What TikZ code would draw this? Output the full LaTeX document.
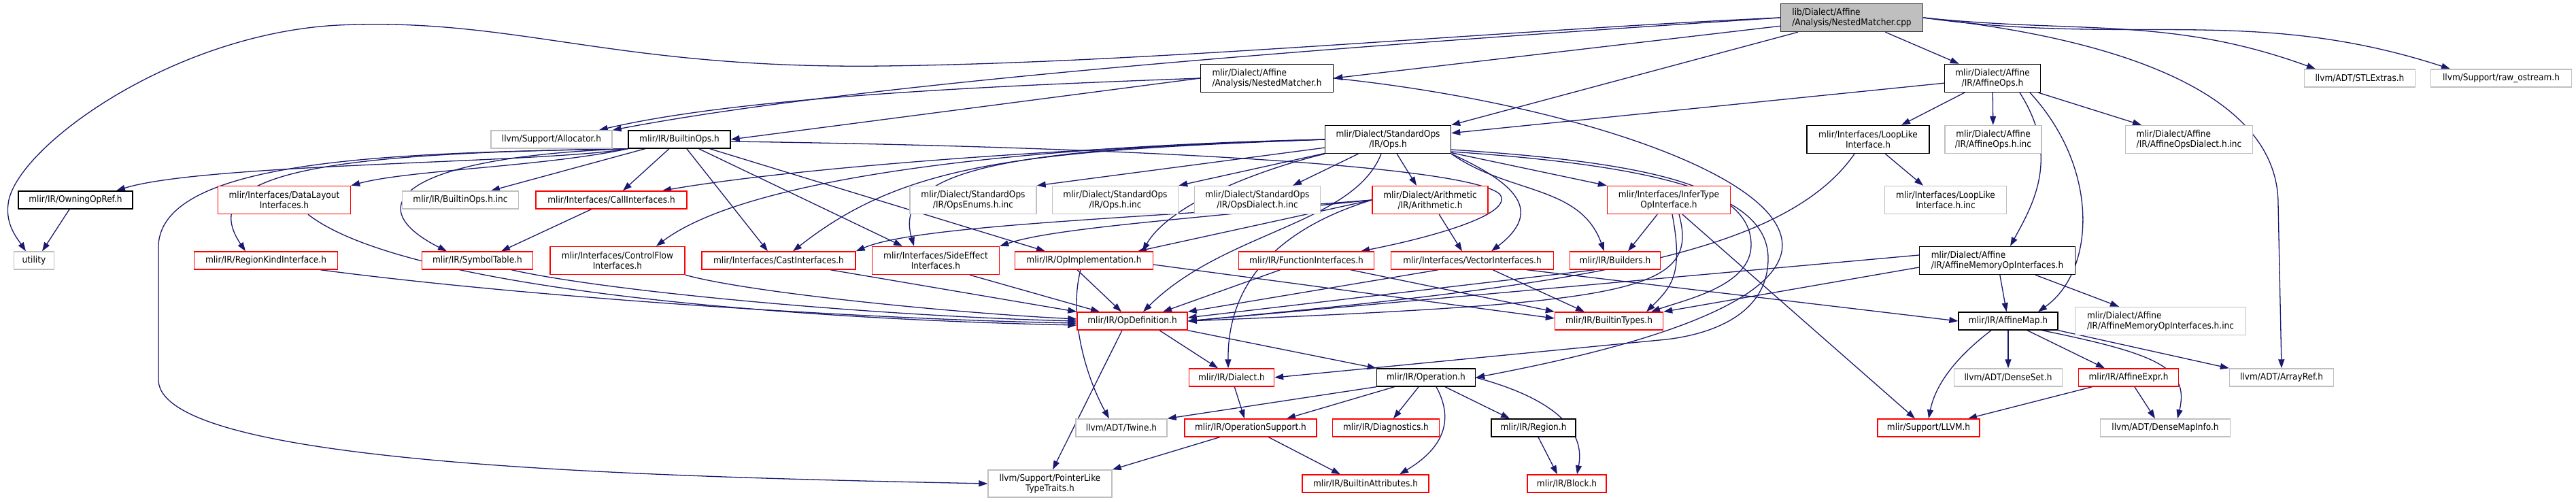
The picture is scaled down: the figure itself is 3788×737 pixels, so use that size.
\documentclass[tikz,border=0pt]{standalone}
\usepackage{fontspec}
\setmainfont{DejaVu Sans Condensed}
\usepackage{xcolor}
\usepackage{tikz}
\usetikzlibrary{arrows.meta}

\definecolor{edgeblue}{HTML}{191970}
\definecolor{boxgray}{HTML}{BFBFBF}
\definecolor{rootfill}{HTML}{BFBFBF}

\pgfdeclarelayer{edges}
\pgfsetlayers{edges,main}

\begin{document}
\begin{tikzpicture}[x=1pt, y=-1pt,
    dep/.style={draw=edgeblue, line width=1.3pt, -{Triangle[length=13pt,width=9pt]}},
    box/.style={rectangle, draw, line width=1.4pt, fill=white, inner sep=0pt,
        minimum height=26pt, align=center, font=\fontsize{13.5}{15}\selectfont},
    blackbox/.style={box, draw=black},
    graybox/.style={box, draw=boxgray},
    redbox/.style={box, draw=red},
    rootbox/.style={box, draw=black!80, fill=rootfill},
    tall/.style={minimum height=41pt}]
    \useasboundingbox (0,0) rectangle (3788,737);

    % Source file
    \node[rootbox, tall, minimum width=209pt, align=left] (root) at (2723,26) {lib/Dialect/Affine\\/Analysis/NestedMatcher.cpp};

    % First level
    \node[blackbox, tall, minimum width=195pt, align=left] (nmh) at (1863,115) {mlir/Dialect/Affine\\/Analysis/NestedMatcher.h};
    \node[blackbox, tall, minimum width=141pt] (affops) at (2930,115) {mlir/Dialect/Affine\\/IR/AffineOps.h};
    \node[graybox, minimum width=163pt] (stlextras) at (3470,115) {llvm/ADT/STLExtras.h};
    \node[graybox, minimum width=207pt] (rawostream) at (3678,115) {llvm/Support/raw\_ostream.h};

    % Second level
    \node[graybox, minimum width=178pt] (allocator) at (811,205) {llvm/Support/Allocator.h};
    \node[blackbox, minimum width=150pt] (builtinops) at (999,205) {mlir/IR/BuiltinOps.h};
    \node[blackbox, tall, minimum width=185pt] (stdops) at (2041,205) {mlir/Dialect/StandardOps\\/IR/Ops.h};
    \node[blackbox, tall, minimum width=180pt] (looplike) at (2747,205) {mlir/Interfaces/LoopLike\\Interface.h};
    \node[graybox, tall, minimum width=142pt] (affopsinc) at (2931,205) {mlir/Dialect/Affine\\/IR/AffineOps.h.inc};
    \node[graybox, tall, minimum width=187pt, align=left] (affopsdialect) at (3219,205) {mlir/Dialect/Affine\\/IR/AffineOpsDialect.h.inc};

    % Third level
    \node[blackbox, minimum width=168pt] (owningopref) at (111,294) {mlir/IR/OwningOpRef.h};
    \node[redbox, tall, minimum width=195pt] (datalayout) at (418,294) {mlir/Interfaces/DataLayout\\Interfaces.h};
    \node[graybox, minimum width=171pt] (builtinopsinc) at (677,294) {mlir/IR/BuiltinOps.h.inc};
    \node[redbox, minimum width=222pt] (callinterfaces) at (899,294) {mlir/Interfaces/CallInterfaces.h};
    \node[graybox, tall, minimum width=186pt] (opsenums) at (1431,294) {mlir/Dialect/StandardOps\\/IR/OpsEnums.h.inc};
    \node[graybox, tall, minimum width=185pt] (opsinc) at (1640,294) {mlir/Dialect/StandardOps\\/IR/Ops.h.inc};
    \node[graybox, tall, minimum width=185pt] (opsdialect) at (1849,294) {mlir/Dialect/StandardOps\\/IR/OpsDialect.h.inc};
    \node[redbox, tall, minimum width=170pt] (arith) at (2103,294) {mlir/Dialect/Arithmetic\\/IR/Arithmetic.h};
    \node[redbox, tall, minimum width=181pt] (infertype) at (2454,294) {mlir/Interfaces/InferType\\OpInterface.h};
    \node[graybox, tall, minimum width=179pt] (looplikeinc) at (2861,294) {mlir/Interfaces/LoopLike\\Interface.h.inc};

    % Fourth level
    \node[graybox, minimum width=59pt] (utility) at (50,383) {utility};
    \node[redbox, minimum width=211pt] (regionkind) at (391,383) {mlir/IR/RegionKindInterface.h};
    \node[redbox, minimum width=163pt] (symboltable) at (702,383) {mlir/IR/SymbolTable.h};
    \node[redbox, tall, minimum width=198pt] (controlflow) at (908,383) {mlir/Interfaces/ControlFlow\\Interfaces.h};
    \node[redbox, minimum width=226pt] (castinterfaces) at (1145,383) {mlir/Interfaces/CastInterfaces.h};
    \node[redbox, tall, minimum width=187pt] (sideeffect) at (1376,383) {mlir/Interfaces/SideEffect\\Interfaces.h};
    \node[redbox, minimum width=203pt] (opimpl) at (1594,383) {mlir/IR/OpImplementation.h};
    \node[redbox, minimum width=199pt] (funcinterfaces) at (1921,383) {mlir/IR/FunctionInterfaces.h};
    \node[redbox, minimum width=239pt] (vectorinterfaces) at (2165,383) {mlir/Interfaces/VectorInterfaces.h};
    \node[redbox, minimum width=133pt] (builders) at (2375,383) {mlir/IR/Builders.h};
    \node[blackbox, tall, minimum width=229pt, align=left] (affmemop) at (2937,383) {mlir/Dialect/Affine\\/IR/AffineMemoryOpInterfaces.h};

    % Fifth level
    \node[redbox, minimum width=162pt] (opdef) at (1665,472) {mlir/IR/OpDefinition.h};
    \node[redbox, minimum width=159pt] (builtintypes) at (2366,472) {mlir/IR/BuiltinTypes.h};
    \node[blackbox, minimum width=146pt] (affinemap) at (2953,472) {mlir/IR/AffineMap.h};
    \node[graybox, tall, minimum width=251pt, align=left] (affmemopinc) at (3177,472) {mlir/Dialect/Affine\\/IR/AffineMemoryOpInterfaces.h.inc};

    % Sixth level
    \node[redbox, minimum width=125pt] (dialect) at (1811,555) {mlir/IR/Dialect.h};
    \node[blackbox, minimum width=145pt] (operation) at (2097,555) {mlir/IR/Operation.h};
    \node[graybox, minimum width=159pt] (denseset) at (2953,555) {llvm/ADT/DenseSet.h};
    \node[redbox, minimum width=147pt] (affineexpr) at (3130,555) {mlir/IR/AffineExpr.h};
    \node[graybox, minimum width=153pt] (arrayref) at (3355,555) {llvm/ADT/ArrayRef.h};

    % Seventh level
    \node[graybox, minimum width=134pt] (twine) at (1649,629) {llvm/ADT/Twine.h};
    \node[redbox, minimum width=194pt] (opsupport) at (1839,629) {mlir/IR/OperationSupport.h};
    \node[redbox, minimum width=157pt] (diagnostics) at (2038,629) {mlir/IR/Diagnostics.h};
    \node[blackbox, minimum width=124pt] (region) at (2255,629) {mlir/IR/Region.h};
    \node[redbox, minimum width=150pt] (llvm) at (2836,629) {mlir/Support/LLVM.h};
    \node[graybox, minimum width=191pt] (densemapinfo) at (3184,629) {llvm/ADT/DenseMapInfo.h};

    % Eighth level
    \node[graybox, tall, minimum width=182pt, minimum height=40pt] (pointerlike) at (1544,711) {llvm/Support/PointerLike\\TypeTraits.h};
    \node[redbox, minimum width=186pt] (builtinattrs) at (2008,711) {mlir/IR/BuiltinAttributes.h};
    \node[redbox, minimum width=116pt] (block) at (2304,711) {mlir/IR/Block.h};

    \begin{pgfonlayer}{edges}
    % Includes of the source file
    \draw[dep] (root) -- (nmh.east);
    \draw[dep] (root) -- (affops);
    \draw[dep] (root) -- (stdops.north east);
    \draw[dep] (root.east) to[out=-6,in=160] ([xshift=-65]stlextras.north);
    \draw[dep] (root.east) to[out=-8,in=162] ([xshift=-75]rawostream.north);
    \draw[dep] (root.east) .. controls (3150,60) and (3350,150) .. (3350,300) -- (arrayref.north);
    \draw[dep] (root.west) .. controls (2100,60) and (1300,115) .. (allocator.north east);
    \draw[dep] (root.west) .. controls (2200,45) and (1700,92) .. (1300,97) .. controls (900,102) and (760,25) .. (497,37) .. controls (250,50) and (20,220) .. (12,300) .. controls (8,330) and (25,350) .. ([xshift=-12]utility.north);

    % NestedMatcher.h
    \draw[dep] (nmh.west) .. controls (1500,125) and (1100,140) .. ([xshift=-20]allocator.north east);
    \draw[dep] (nmh.west) -- (builtinops.east);
    \draw[dep] (nmh.east) .. controls (2300,150) and (2640,260) .. (2620,370) .. controls (2600,470) and (2300,530) .. (operation.east);

    % BuiltinOps.h
    \draw[dep] (builtinops.south west) .. controls (800,240) and (300,240) .. ([xshift=60]owningopref.north);
    \draw[dep] (builtinops.south west) .. controls (800,245) and (600,250) .. (datalayout.north east);
    \draw[dep] (builtinops.south west) .. controls (500,225) and (280,250) .. ([xshift=-30]regionkind.north);
    \draw[dep] (builtinops.south west) .. controls (600,230) and (520,300) .. ([xshift=-45]symboltable.north);
    \draw[dep] (builtinops.south west) .. controls (600,225) and (240,230) .. (233,360) -- (233,560) .. controls (240,680) and (900,700) .. (pointerlike.west);
    \draw[dep] (builtinops) -- ([xshift=45]builtinopsinc.north);
    \draw[dep] (builtinops) -- ([xshift=17]callinterfaces.north);
    \draw[dep] (builtinops) -- ([xshift=-16]castinterfaces.north);
    \draw[dep] (builtinops) -- ([xshift=-49]sideeffect.north);
    \draw[dep] (builtinops) -- ([xshift=-57]opimpl.north);
    \draw[dep] ([yshift=-3]builtinops.east) .. controls (1600,215) and (2150,240) .. (2205,285) .. controls (2230,315) and (2100,350) .. ([xshift=80]funcinterfaces.north);
    \draw[dep] (callinterfaces) -- ([xshift=35]symboltable.north);
    \draw[dep] (owningopref) -- ([xshift=12]utility.north);

    % StandardOps/IR/Ops.h
    \draw[dep] (stdops) -- (opsenums.north east);
    \draw[dep] (stdops) -- (opsinc.north east);
    \draw[dep] (stdops) -- ([xshift=52]opsdialect.north);
    \draw[dep] (stdops) -- ([xshift=-20]arith.north);
    \draw[dep] (stdops) -- (infertype.north west);
    \draw[dep] (stdops.west) .. controls (1500,220) and (1150,250) .. ([xshift=75]callinterfaces.north);
    \draw[dep] (stdops.west) .. controls (1500,215) and (1100,260) .. ([xshift=57]controlflow.north);
    \draw[dep] (stdops.west) .. controls (1500,222) and (1330,240) .. ([xshift=21]castinterfaces.north);
    \draw[dep] (stdops.west) .. controls (1500,218) and (1310,245) .. ([xshift=-32]sideeffect.north);
    \draw[dep] (stdops.south west) .. controls (1850,250) and (1720,300) .. ([xshift=86]opimpl.north);
    \draw[dep] ([xshift=-10]stdops.south) .. controls (1990,330) and (1800,340) .. ([xshift=16]opdef.north);
    \draw[dep] (stdops.south east) .. controls (2230,270) and (2270,310) .. ([xshift=28]vectorinterfaces.north);
    \draw[dep] (stdops.south east) to[out=-35,in=110] ([xshift=-16]builders.north);
    \draw[dep] ([yshift=-15]stdops.east) .. controls (2450,240) and (2575,280) .. (2575,360) .. controls (2575,420) and (2480,440) .. ([xshift=62]builtintypes.north);
    \draw[dep] ([yshift=-18]stdops.east) .. controls (2460,245) and (2600,290) .. (2600,380) .. controls (2600,470) and (2500,495) .. (2440,500) -- (dialect.east);

    % Arithmetic.h
    \draw[dep] (arith.west) .. controls (1700,320) and (1350,330) .. (castinterfaces.north east);
    \draw[dep] (arith.west) .. controls (1750,322) and (1550,335) .. (sideeffect.north east);
    \draw[dep] (arith.west) -- ([xshift=79]opimpl.north);
    \draw[dep] (arith.west) .. controls (1900,330) and (1805,400) .. ([xshift=-5]dialect.north);
    \draw[dep] (arith) -- ([xshift=-15]vectorinterfaces.north);

    % InferTypeOpInterface.h
    \draw[dep] (infertype) -- ([xshift=19]builders.north);
    \draw[dep] ([xshift=5]infertype.south) .. controls (2475,400) and (2460,420) .. ([xshift=55]builtintypes.north);
    \draw[dep] ([xshift=15]infertype.south) .. controls (2500,430) and (2400,445) .. (opdef.east);
    \draw[dep] ([xshift=20]infertype.south) -- ([xshift=-20]llvm.north);

    % LoopLikeInterface.h
    \draw[dep] (looplike) -- ([xshift=-33]looplikeinc.north);
    \draw[dep] ([xshift=-20]looplike.south) .. controls (2620,380) and (2300,420) .. (opdef.east);

    % AffineOps.h
    \draw[dep] (affops) -- (stdops);
    \draw[dep] (affops) -- ([xshift=49]looplike.north);
    \draw[dep] (affops) -- (affopsinc);
    \draw[dep] (affops) -- ([xshift=-70]affopsdialect.north);
    \draw[dep] ([xshift=40]affops.south) .. controls (3030,230) and (2990,300) .. ([xshift=19]affmemop.north);
    \draw[dep] ([xshift=55]affops.south) .. controls (3090,250) and (3080,400) .. ([xshift=44]affinemap.north);

    % AffineMemoryOpInterfaces.h
    \draw[dep] ([yshift=8]affmemop.west) -- (opdef.east);
    \draw[dep] ([yshift=-10]affmemop.west) -- (builtintypes.north east);
    \draw[dep] (affmemop) -- (affinemap);
    \draw[dep] (affmemop) -- ([xshift=-61]affmemopinc.north);

    % Interfaces into OpDefinition.h
    \draw[dep] ([xshift=35]datalayout.south) .. controls (600,430) and (1200,470) .. ([yshift=-6]opdef.west);
    \draw[dep] ([xshift=80]regionkind.south) .. controls (800,440) and (1300,470) .. ([yshift=-3]opdef.west);
    \draw[dep] ([xshift=50]symboltable.south) .. controls (900,430) and (1300,465) .. (opdef.west);
    \draw[dep] (controlflow.south east) .. controls (1100,430) and (1400,460) .. ([yshift=3]opdef.west);
    \draw[dep] ([xshift=76]castinterfaces.south) -- (opdef.north west);
    \draw[dep] ([xshift=50]sideeffect.south) -- ([xshift=-48]opdef.north);
    \draw[dep] ([xshift=-10]opimpl.south) -- ([xshift=-16]opdef.north);
    \draw[dep] (funcinterfaces) -- ([xshift=45]opdef.north);
    \draw[dep] ([xshift=-50]vectorinterfaces.south) -- (opdef.north east);
    \draw[dep] ([xshift=-30]builders.south) -- ([yshift=5]opdef.east);

    % Into BuiltinTypes.h and AffineMap.h
    \draw[dep] ([yshift=-6]opimpl.east) -- ([yshift=4]builtintypes.west);
    \draw[dep] ([xshift=65]funcinterfaces.south) -- (builtintypes.north west);
    \draw[dep] ([xshift=30]vectorinterfaces.south) -- ([xshift=-36]builtintypes.north);
    \draw[dep] ([xshift=80]vectorinterfaces.south) -- (affinemap.west);

    % OpDefinition.h
    \draw[dep] ([xshift=40]opdef.south) -- ([xshift=-20]dialect.north);
    \draw[dep] (opdef.south east) -- (operation.north west);
    \draw[dep] ([xshift=-15]opdef.south) -- ([xshift=4]pointerlike.north);
    \draw[dep] ([xshift=-5]opimpl.south) .. controls (1570,470) and (1600,560) .. ([xshift=-18]twine.north);

    % Dialect.h and Operation.h
    \draw[dep] (dialect) -- ([xshift=-9]opsupport.north);
    \draw[dep] (operation.south west) -- (twine.north east);
    \draw[dep] (operation) -- ([xshift=53]opsupport.north);
    \draw[dep] (operation) -- (diagnostics);
    \draw[dep] (operation) -- ([xshift=-35]region.north);
    \draw[dep] ([xshift=15]operation.south) .. controls (2140,620) and (2120,660) .. ([xshift=50]builtinattrs.north);
    \draw[dep] (operation.east) .. controls (2300,590) and (2330,640) .. ([xshift=15]block.north);
    \draw[dep] (region) -- ([xshift=-14]block.north);
    \draw[dep] (opsupport) -- (pointerlike.north east);
    \draw[dep] (opsupport) -- ([xshift=-37]builtinattrs.north);

    % AffineMap.h
    \draw[dep] ([xshift=-25]affinemap.south) .. controls (2870,530) and (2845,570) .. (llvm.north);
    \draw[dep] (affinemap) -- (denseset);
    \draw[dep] (affinemap) -- ([xshift=-35]affineexpr.north);
    \draw[dep] (affinemap.south east) -- (arrayref.north west);
    \draw[dep] ([xshift=50]affinemap.south) .. controls (3170,520) and (3220,540) .. ([xshift=18]densemapinfo.north);
    \draw[dep] (affineexpr) -- ([xshift=58]llvm.north);
    \draw[dep] (affineexpr) -- ([xshift=-15]densemapinfo.north);
    \end{pgfonlayer}
\end{tikzpicture}
\end{document}
